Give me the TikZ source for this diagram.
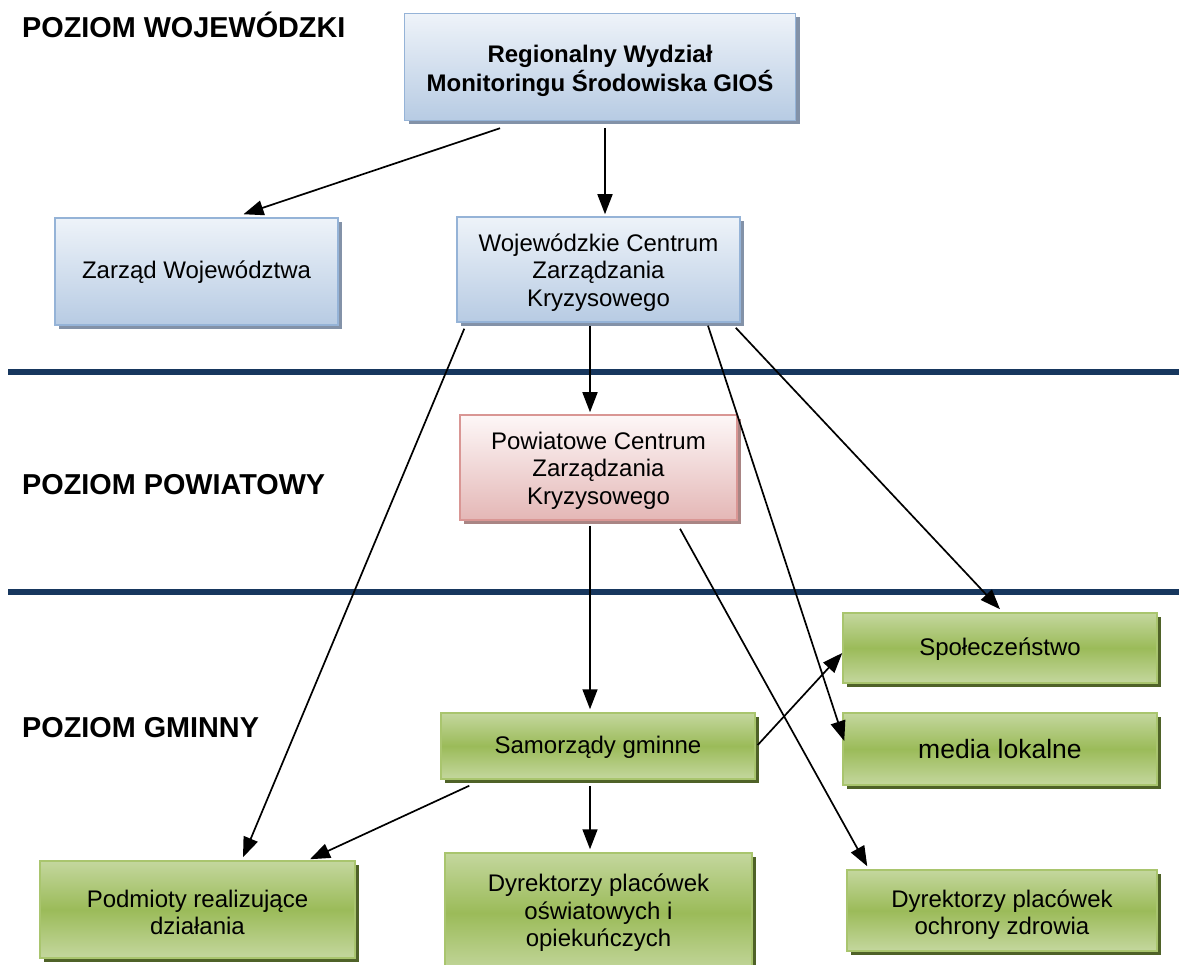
\documentclass[tikz,border=0pt]{standalone}
\usepackage{fontspec}
\setmainfont{Liberation Sans}
\usetikzlibrary{calc,shadows,arrows.meta}
\definecolor{bluetop}{HTML}{EEF3F9}
\definecolor{bluebot}{HTML}{B7CBE3}
\definecolor{blueline}{HTML}{95B3D7}
\definecolor{blueshadow}{HTML}{8392A8}
\definecolor{pinktop}{HTML}{FDF7F7}
\definecolor{pinkbot}{HTML}{E4B7B6}
\definecolor{pinkline}{HTML}{D99694}
\definecolor{pinkshadow}{HTML}{A98584}
\definecolor{greenlight}{HTML}{C4D79E}
\definecolor{greenmid}{HTML}{9BBB59}
\definecolor{greenline}{HTML}{A9C56E}
\definecolor{greenshadow}{HTML}{4F6228}
\definecolor{barcol}{HTML}{17375E}
\tikzset{
  boxbase/.style={rectangle, line width=1.5pt, inner sep=0pt},
  bluebox/.style={boxbase, draw=blueline, top color=bluetop, bottom color=bluebot,
    general shadow={fill=blueshadow, shadow xshift=4pt, shadow yshift=-4pt}},
  pinkbox/.style={boxbase, draw=pinkline, top color=pinktop, bottom color=pinkbot,
    general shadow={fill=pinkshadow, shadow xshift=4pt, shadow yshift=-4pt}},
  greenbox/.style={boxbase, draw=greenline, top color=greenlight, bottom color=greenlight, middle color=greenmid,
    general shadow={fill=greenshadow, shadow xshift=4pt, shadow yshift=-4pt}},
  boxtext/.style={align=center, inner sep=0pt, font=\fontsize{24}{27.5}\selectfont},
  levellabel/.style={anchor=base west, font=\fontsize{28.8}{32}\selectfont\bfseries, inner sep=0pt},
  arr/.style={line width=1.7pt, -{Triangle[length=20pt,width=15pt]}},
  bar/.style={line width=6pt, draw=barcol}
}
\begin{document}
\begin{tikzpicture}[x=1pt,y=-1pt]
\useasboundingbox (0,0) rectangle (1179,965);
\fill[white] (0,0) rectangle (1179,965);

% level bars
\coordinate (barAl) at (8,372);
\coordinate (barAr) at (1179,372);
\coordinate (barBl) at (8,592);
\coordinate (barBr) at (1179,592);
\draw[bar] (barAl) -- (barAr);
\draw[bar] (barBl) -- (barBr);

% level labels
\node[levellabel] (lw) at (22,38) {POZIOM WOJEWÓDZKI};
\node[levellabel] (lp) at (22,495) {POZIOM POWIATOWY};
\node[levellabel] (lg) at (22,737) {POZIOM GMINNY};

% boxes
\node[bluebox, minimum width=391, minimum height=107] (reg) at (600,67) {};
\node[bluebox, minimum width=283, minimum height=107] (zw) at (196.5,271.5) {};
\node[bluebox, minimum width=283, minimum height=105] (wczk) at (598.5,269.5) {};
\node[pinkbox, minimum width=277, minimum height=105] (pczk) at (598.5,467.5) {};
\node[greenbox, minimum width=314, minimum height=70] (spo) at (1000,648) {};
\node[greenbox, minimum width=314, minimum height=72] (med) at (1000,749) {};
\node[greenbox, minimum width=314, minimum height=66] (sam) at (598,746) {};
\node[greenbox, minimum width=315, minimum height=97] (pod) at (197.5,909.5) {};
\node[greenbox, minimum width=307, minimum height=120] (dyo) at (598.5,913) {};
\node[greenbox, minimum width=310, minimum height=81] (dyz) at (1002,910.5) {};

% box texts
\node[boxtext, font=\fontsize{24}{29.5}\selectfont\bfseries] (regt) at ($(reg.center)+(0,4)$)
  {Regionalny Wydział\\Monitoringu Środowiska GIOŚ};
\node[boxtext] (zwt) at ($(zw.center)+(0,1)$) {Zarząd Województwa};
\node[boxtext] (wczkt) at ($(wczk.center)+(0,3)$) {Wojewódzkie Centrum\\Zarządzania\\Kryzysowego};
\node[boxtext] (pczkt) at ($(pczk.center)+(0,3)$) {Powiatowe Centrum\\Zarządzania\\Kryzysowego};
\node[boxtext] (spot) at ($(spo.center)+(0,1)$) {Społeczeństwo};
\node[boxtext, font=\fontsize{26.5}{30}\selectfont] (medt) at ($(med.center)+(0,0)$) {media lokalne};
\node[boxtext] (samt) at ($(sam.center)+(0,1)$) {Samorządy gminne};
\node[boxtext] (podt) at ($(pod.center)+(0,3)$) {Podmioty realizujące\\działania};
\node[boxtext] (dyot) at ($(dyo.center)+(0,0)$) {Dyrektorzy placówek\\oświatowych i\\opiekuńczych};
\node[boxtext] (dyzt) at ($(dyz.center)+(0,4)$) {Dyrektorzy placówek\\ochrony zdrowia};

% connectors
\draw[arr] ($(reg.south)+(-100,7)$) -- ($(zw.north)+(47,-3)$);
\draw[arr] ($(reg.south)+(5,7)$) -- ($(wczk.north)+(6.5,-2)$);
\draw[arr] ($(wczk.south)+(-8.5,3)$) -- ($(pczk.north)+(-8.5,-2)$);
\draw[arr] ($(wczk.south west)+(8,6)$) -- ($(pod.north)+(45.5,-3)$);
\draw[arr] ($(wczk.south)+(109.5,3)$) -- ($(med.west)+(2,-8)$);
\draw[arr] ($(wczk.south east)+(-5,5)$) -- ($(spo.north)+(0,-3)$);
\draw[arr] ($(pczk.south)+(-8.5,5)$) -- ($(sam.north)+(-8,-3)$);
\draw[arr] ($(pczk.south)+(81.5,8)$) -- ($(dyz.north west)+(21,-3)$);
\draw[arr] ($(sam.east)+(2,-1)$) -- ($(spo.west)+(0,5)$);
\draw[arr] ($(sam.south west)+(29,6)$) -- ($(pod.north)+(112.5,-1)$);
\draw[arr] ($(sam.south)+(-8,6)$) -- ($(dyo.north)+(-8.5,-3)$);
\end{tikzpicture}
\end{document}
